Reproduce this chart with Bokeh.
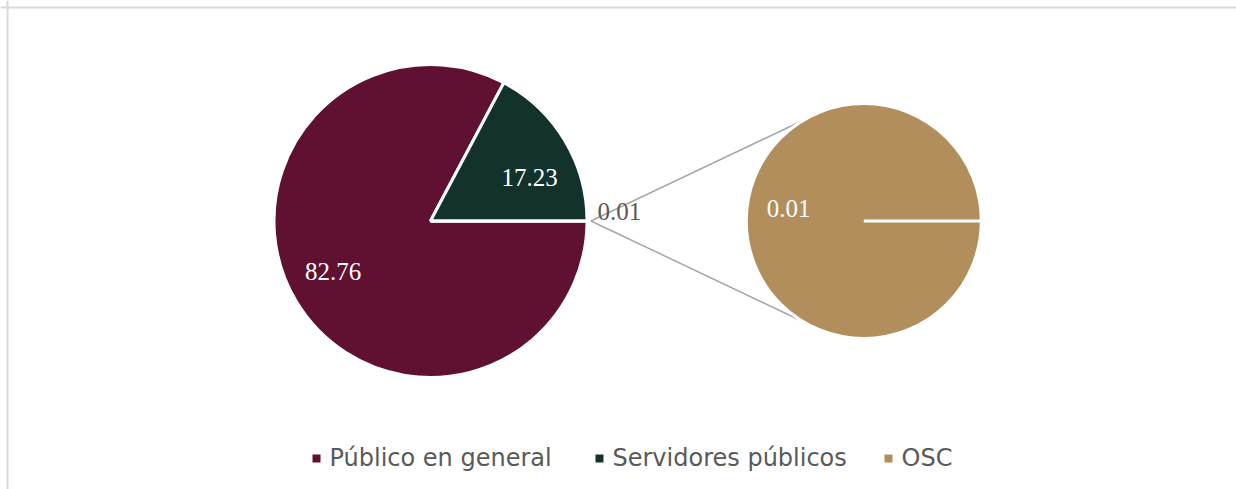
import math
from bokeh.plotting import figure
from bokeh.models import ColumnDataSource, Span
from bokeh.core.properties import value
from bokeh.embed import file_html
from bokeh.resources import INLINE

# ---- data ----
categories = ["Público en general", "Servidores públicos", "OSC"]
values = [82.76, 17.23, 0.01]
colors = ["#601131", "#12322b", "#b28e5c"]
labels_main = ["82.76", "17.23"]
label_other = "0.01"

W, H = 1236, 489
p = figure(width=W, height=H, x_range=(0, W), y_range=(0, H),
           output_backend="svg", toolbar_location=None,
           min_border=0, outline_line_color=None)
p.axis.visible = False
p.grid.visible = False
p.background_fill_color = "white"
p.border_fill_color = "white"


def Y(sy):
    return H - sy


# chart area border (only top & left visible in the crop)
p.add_layout(Span(location=Y(7), dimension="width", line_color="#d9d9d9", line_width=2))
p.add_layout(Span(location=7, dimension="height", line_color="#d9d9d9", line_width=2))

# geometry (screen-like positions)
cx1, cy1, r1 = 430.0, Y(220.5), 156.5
cx2, cy2, r2 = 863.3, Y(220.5), 117.5

total = sum(values)
other = values[2]
a_other = other / total * 2 * math.pi
a_serv = values[1] / total * 2 * math.pi
starts = [a_other / 2 + a_serv, a_other / 2, -a_other / 2]
ends = [2 * math.pi - a_other / 2, a_other / 2 + a_serv, a_other / 2]

main = ColumnDataSource(dict(x=[cx1] * 3, y=[cy1] * 3, start=starts, end=ends,
                             color=colors))
p.wedge(x="x", y="y", radius=r1, start_angle="start", end_angle="end",
        fill_color="color", line_color="white", line_width=3, source=main)

# connector lines
ang = math.radians(121.0)
sx, sy = cx1 + r1 + 4, cy1
tx, ty = cx2 + r2 * math.cos(ang), cy2 + r2 * math.sin(ang)
p.segment(x0=[sx, sx], y0=[sy, sy], x1=[tx, tx], y1=[ty, 2 * cy2 - ty],
          line_color="#a6a6a6", line_width=1.5)

# secondary pie (OSC = 100%)
p.wedge(x=[cx2], y=[cy2], radius=r2, start_angle=[0.0], end_angle=[2 * math.pi],
        fill_color=colors[2], line_color="white", line_width=3)

# data labels
serif = value("Liberation Serif")
fs = "25px"
p.text(x=[332.5, 529], y=[Y(271), Y(177)], text=labels_main, text_color="white",
       text_font=serif, text_font_size=fs, text_align="center",
       text_baseline="middle")
p.text(x=[597], y=[Y(211)], text=[label_other], text_color="#595959",
       text_font=serif, text_font_size=fs, text_align="left",
       text_baseline="middle")
p.text(x=[788], y=[Y(208)], text=[label_other], text_color="white",
       text_font=serif, text_font_size=fs, text_align="center",
       text_baseline="middle")

# legend
lx = [316, 599, 888]
ly = Y(458)
p.scatter(x=lx, y=[ly] * 3, marker="square", size=8, fill_color=colors,
          line_color=None)
p.text(x=[v + 13 for v in lx], y=[Y(457)] * 3, text=categories,
       text_color="#595959", text_font=value("DejaVu Sans"),
       text_font_size="24px", text_align="left", text_baseline="middle")

open("out.html", "w").write(file_html(p, INLINE))
